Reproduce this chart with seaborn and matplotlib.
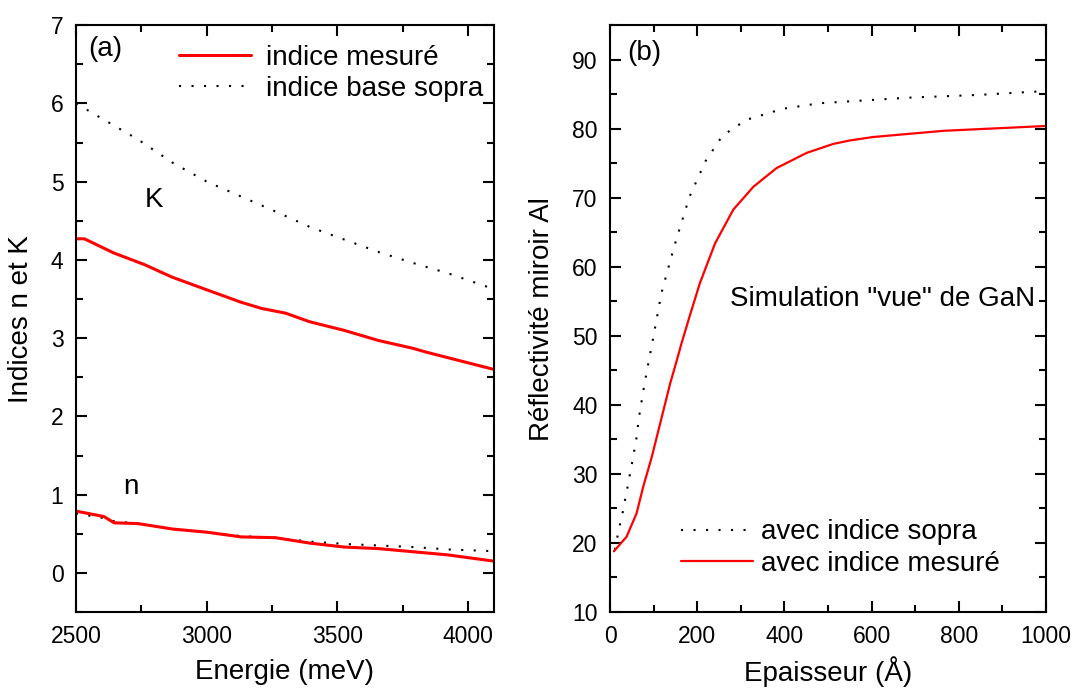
import numpy as np
import pandas as pd
import matplotlib
matplotlib.use("Agg")
import matplotlib.pyplot as plt
import seaborn as sns
from matplotlib.ticker import MultipleLocator

# (a) indices n et K vs energie (meV)
energie_k_mes = [2500, 2532, 2644, 2762, 2868, 2999, 3131, 3210, 3302, 3394, 3526, 3658, 3790, 3842, 4100]
k_mes = [4.27, 4.27, 4.09, 3.94, 3.78, 3.62, 3.46, 3.38, 3.32, 3.21, 3.10, 2.97, 2.87, 2.82, 2.60]
energie_k_sopra = [2500, 2737, 2871, 3001, 3132, 3263, 3396, 3527, 3659, 3791, 3923, 4080]
k_sopra = [6.0, 5.54, 5.24, 5.0, 4.81, 4.62, 4.42, 4.26, 4.10, 3.96, 3.83, 3.65]
energie_n_mes = [2500, 2607, 2646, 2737, 2871, 3001, 3132, 3263, 3396, 3527, 3659, 3791, 3923, 4100]
n_mes = [0.79, 0.72, 0.64, 0.63, 0.56, 0.52, 0.46, 0.45, 0.38, 0.33, 0.31, 0.27, 0.23, 0.15]
energie_n_sopra = [2500, 2607, 2646, 2737, 2871, 3001, 3132, 3263, 3396, 3527, 3659, 3791, 3923, 4080]
n_sopra = [0.76, 0.70, 0.66, 0.63, 0.56, 0.52, 0.47, 0.45, 0.40, 0.37, 0.35, 0.33, 0.30, 0.28]

# (b) reflectivite miroir Al vs epaisseur (A)
ep_mes = [9, 38, 61, 76, 96, 115, 138, 153, 164, 182, 206, 241, 283, 329, 382, 451, 512, 550, 603, 765, 1000]
r_mes = [18.8, 20.9, 24.3, 28.1, 32.5, 37.3, 43.1, 46.4, 48.9, 52.7, 57.6, 63.4, 68.3, 71.6, 74.3, 76.5, 77.8, 78.3, 78.8, 79.7, 80.4]
ep_sopra = [11, 17, 23, 29, 34, 40, 50, 60, 67, 76, 86, 97, 118, 147, 182, 219, 258, 313, 397, 482, 684, 845, 983]
r_sopra = [19.0, 20.9, 22.7, 24.4, 26.1, 28.0, 31.4, 34.9, 38.4, 41.9, 45.4, 49.0, 56.2, 62.9, 70.1, 75.3, 79.0, 81.3, 82.9, 83.7, 84.5, 84.9, 85.4]

sns.set_style("ticks")
plt.rcParams['font.family'] = ['Liberation Sans', 'DejaVu Sans']
plt.rcParams.update({"text.color": "black", "axes.labelcolor": "black",
                     "xtick.color": "black", "ytick.color": "black"})

fig = plt.figure(figsize=(10.73, 6.92), dpi=100)
ax1 = fig.add_axes([0.0708, 0.1156, 0.3896, 0.848])
ax2 = fig.add_axes([0.5685, 0.1156, 0.4063, 0.848])

red = "#ff0000"
dots = (0, (1, 5))
sns.lineplot(x=energie_k_mes, y=k_mes, ax=ax1, color=red, lw=2.2, label="indice mesuré")
sns.lineplot(x=energie_k_sopra, y=k_sopra, ax=ax1, color="black", lw=1.5, ls=dots, label="indice base sopra")
sns.lineplot(x=energie_n_sopra, y=n_sopra, ax=ax1, color="black", lw=1.5, ls=dots)
sns.lineplot(x=energie_n_mes, y=n_mes, ax=ax1, color=red, lw=2.2)

sns.lineplot(x=ep_sopra, y=r_sopra, ax=ax2, color="black", lw=1.5, ls=dots, label="avec indice sopra")
sns.lineplot(x=ep_mes, y=r_mes, ax=ax2, color=red, lw=1.6, label="avec indice mesuré")

ax1.set_xlim(2500, 4100)
ax1.set_ylim(-0.5, 7)
ax1.xaxis.set_major_locator(MultipleLocator(500))
ax1.xaxis.set_minor_locator(MultipleLocator(250))
ax1.yaxis.set_major_locator(MultipleLocator(1))
ax1.yaxis.set_minor_locator(MultipleLocator(0.5))
ax1.set_xlabel("Energie (meV)", fontsize=20, labelpad=8)
ax1.set_ylabel("Indices n et K", fontsize=20, labelpad=12)
ax1.text(2546, 6.70, "(a)", fontsize=20, va="center")
ax1.text(2798, 4.76, "K", fontsize=20, va="center", ha="center")
ax1.text(2710, 1.10, "n", fontsize=20, va="center", ha="center")
ax1.legend(loc="center left", bbox_to_anchor=(0.246, 0.918), fontsize=20, frameon=False,
           handlelength=2.6, borderpad=0, borderaxespad=0, labelspacing=0.2, handletextpad=0.55)

ax2.set_xlim(0, 1000)
ax2.set_ylim(10, 95)
ax2.xaxis.set_major_locator(MultipleLocator(200))
ax2.xaxis.set_minor_locator(MultipleLocator(100))
ax2.yaxis.set_minor_locator(MultipleLocator(5))
ax2.set_yticks([10, 20, 30, 40, 50, 60, 70, 80, 90])
ax2.set_xlabel("Epaisseur (Å)", fontsize=20, labelpad=6)
ax2.set_ylabel("Réflectivité miroir Al", fontsize=20, labelpad=12)
ax2.text(40, 91.0, "(b)", fontsize=20, va="center")
ax2.text(975, 55.4, "Simulation \"vue\" de GaN", fontsize=20, ha="right", va="center")
ax2.legend(loc="center left", bbox_to_anchor=(0.162, 0.109), fontsize=20, frameon=False,
           handlelength=2.6, borderpad=0, borderaxespad=0, labelspacing=0.2, handletextpad=0.3)

for ax in (ax1, ax2):
    for s in ax.spines.values():
        s.set_linewidth(1.5)
        s.set_color("black")
    ax.tick_params(which="both", direction="in", top=True, right=True, width=1.5, labelsize=16.5, pad=9)
    ax.tick_params(which="major", length=8)
    ax.tick_params(which="minor", length=5)

fig.savefig("out.png", dpi=100)
